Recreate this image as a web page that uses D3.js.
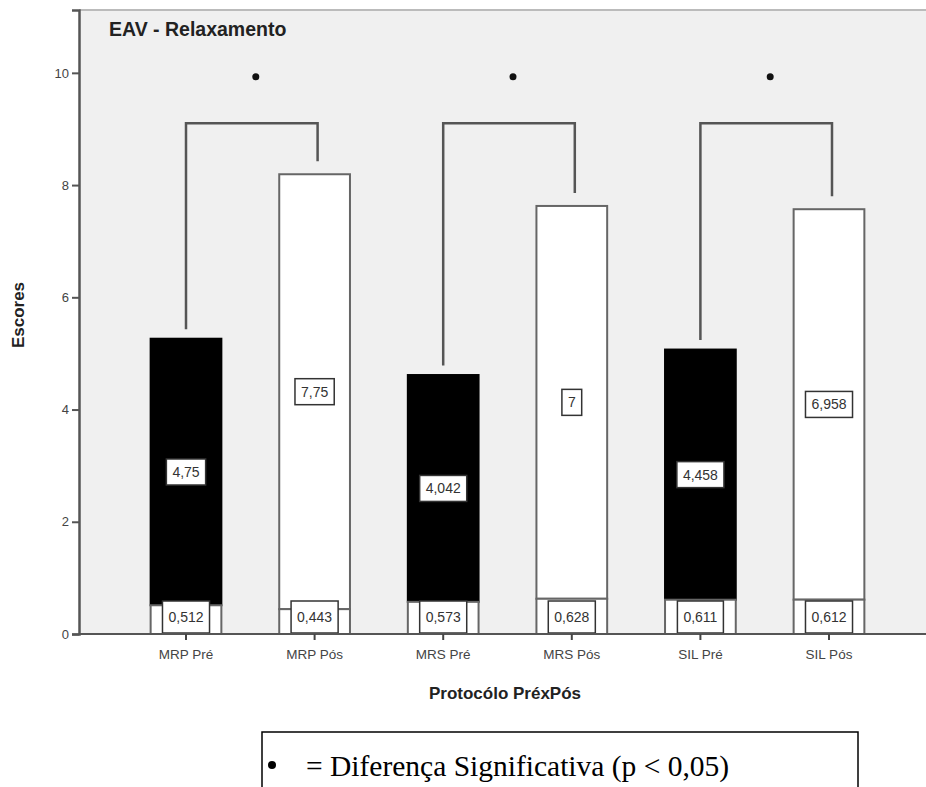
<!DOCTYPE html>
<html>
<head>
<meta charset="utf-8">
<script src="https://cdn.jsdelivr.net/npm/d3@7"></script>
<style>
  body { margin: 0; background: #fff; }
  svg { display: block; }
</style>
</head>
<body>
<div id="chart"></div>
<script>
// data
var categories = ["MRP Pré", "MRP Pós", "MRS Pré", "MRS Pós", "SIL Pré", "SIL Pós"];
var means = [4.75, 7.75, 4.042, 7, 4.458, 6.958];
var sds = [0.512, 0.443, 0.573, 0.628, 0.611, 0.612];
var yTicks = [0, 2, 4, 6, 8, 10];
// significant pairs (index of pre, index of post)
var pairs = [[0, 1], [2, 3], [4, 5]];

var W = 926, H = 787;
var plot = {left: 79, top: 10, right: 926, bottom: 634};

var svg = d3.select("#chart").append("svg")
    .attr("width", W)
    .attr("height", H)
    .style("font-family", "'Liberation Sans', Arial, sans-serif");

// plot background
svg.append("rect")
    .attr("x", plot.left).attr("y", plot.top)
    .attr("width", plot.right - plot.left)
    .attr("height", plot.bottom - plot.top)
    .attr("fill", "#f0f0f0");
svg.append("line")
    .attr("x1", plot.left).attr("x2", plot.right)
    .attr("y1", plot.top).attr("y2", plot.top)
    .attr("stroke", "#bbb").attr("stroke-width", 2);

var x = d3.scaleBand()
    .domain(categories)
    .range([121.7, 893.3])
    .paddingInner(0.45)
    .paddingOuter(0.225);

var y = d3.scaleLinear()
    .domain([0, 11.12])
    .range([plot.bottom, plot.top]);

function fmt(v) { return String(v).replace(".", ","); }
function isPre(d) { return d.indexOf("Pré") >= 0; }

var rows = categories.map(function(c, i) {
  return {name: c, mean: means[i], sd: sds[i]};
});

// top segment (mean)
svg.selectAll(".top")
  .data(rows)
  .enter()
  .append("rect")
    .attr("x", function(d) { return x(d.name); })
    .attr("y", function(d) { return y(d.sd + d.mean); })
    .attr("width", x.bandwidth())
    .attr("height", function(d) { return y(d.sd) - y(d.sd + d.mean); })
    .attr("fill", function(d) { return isPre(d.name) ? "#000" : "#fff"; })
    .attr("stroke", function(d) { return isPre(d.name) ? "#000" : "#666"; })
    .attr("stroke-width", 2);

// bottom segment
svg.selectAll(".bottom")
  .data(rows)
  .enter()
  .append("rect")
    .attr("x", function(d) { return x(d.name); })
    .attr("y", function(d) { return y(d.sd); })
    .attr("width", x.bandwidth())
    .attr("height", function(d) { return y(0) - y(d.sd); })
    .attr("fill", "#fff")
    .attr("stroke", "#666")
    .attr("stroke-width", 2);

// label boxes
function labelBox(g, text, cx, cy, h) {
  var t = g.append("text")
      .attr("x", cx).attr("y", cy)
      .attr("text-anchor", "middle")
      .attr("dominant-baseline", "central")
      .attr("font-size", 14)
      .attr("fill", "#333")
      .text(text);
  var w = t.node().getComputedTextLength() + 12;
  g.insert("rect", "text")
      .attr("x", cx - w / 2).attr("y", cy - h / 2)
      .attr("width", w).attr("height", h)
      .attr("fill", "#fff")
      .attr("stroke", "#333")
      .attr("stroke-width", 1.5);
}

rows.forEach(function(d) {
  var cx = x(d.name) + x.bandwidth() / 2;
  labelBox(svg.append("g"), fmt(d.mean), cx, y(d.sd + d.mean / 2), 26);
  labelBox(svg.append("g"), fmt(d.sd), cx, y(0) - 17, 32);
});

// axes
var yAxis = svg.append("g")
    .attr("transform", "translate(" + plot.left + ",0)")
    .call(d3.axisLeft(y).tickValues(yTicks).tickSize(7).tickPadding(3));
yAxis.select(".domain").attr("stroke", "#555").attr("stroke-width", 2.5);
yAxis.selectAll(".tick line").attr("stroke", "#555").attr("stroke-width", 2);
yAxis.selectAll(".tick text").attr("font-size", 13).attr("fill", "#444")
    .style("font-family", "'Liberation Sans', Arial, sans-serif");

var xAxis = svg.append("g")
    .attr("transform", "translate(0," + plot.bottom + ")")
    .call(d3.axisBottom(x).tickSize(6).tickPadding(9).tickSizeOuter(0));
xAxis.select(".domain").attr("d", "M" + plot.left + ",0H" + plot.right)
    .attr("stroke", "#555").attr("stroke-width", 2);
xAxis.selectAll(".tick line").attr("stroke", "#444").attr("stroke-width", 2);
xAxis.selectAll(".tick text").attr("font-size", 13.5).attr("fill", "#444")
    .style("font-family", "'Liberation Sans', Arial, sans-serif");

// significance brackets
var bracketY = 9.1;
pairs.forEach(function(p) {
  var a = rows[p[0]], b = rows[p[1]];
  var xa = x(a.name) + x.bandwidth() / 2;
  var xb = x(b.name) + x.bandwidth() / 2 + 3;
  var ya = y(a.sd + a.mean + 0.17);
  var yb = y(b.sd + b.mean + 0.23);
  svg.append("path")
      .attr("d", "M" + xa + "," + ya + "V" + y(bracketY) + "H" + xb + "V" + yb)
      .attr("fill", "none")
      .attr("stroke", "#555")
      .attr("stroke-width", 2.5);
  svg.append("circle")
      .attr("cx", (xa + xb) / 2 + 4)
      .attr("cy", y(9.93))
      .attr("r", 3.5)
      .attr("fill", "#111");
});

// titles
svg.append("text")
    .attr("x", 109).attr("y", 36)
    .attr("font-size", 19.5).attr("font-weight", "bold").attr("fill", "#222")
    .text("EAV - Relaxamento");

svg.append("text")
    .attr("transform", "translate(24,315) rotate(-90)")
    .attr("text-anchor", "middle")
    .attr("font-size", 17).attr("font-weight", "bold").attr("fill", "#222")
    .text("Escores");

svg.append("text")
    .attr("x", 505).attr("y", 699)
    .attr("text-anchor", "middle")
    .attr("font-size", 17).attr("font-weight", "bold").attr("fill", "#222")
    .text("Protocólo PréxPós");

// legend
svg.append("rect")
    .attr("x", 262).attr("y", 732)
    .attr("width", 596).attr("height", 80)
    .attr("fill", "#fff")
    .attr("stroke", "#000")
    .attr("stroke-width", 1.5);
svg.append("circle")
    .attr("cx", 272).attr("cy", 765)
    .attr("r", 4)
    .attr("fill", "#000");
svg.append("text")
    .attr("x", 306).attr("y", 776)
    .attr("font-size", 29.5)
    .style("font-family", "'Liberation Serif', 'Times New Roman', serif")
    .attr("fill", "#000")
    .text("= Diferença Significativa (p < 0,05)");
</script>
</body>
</html>
